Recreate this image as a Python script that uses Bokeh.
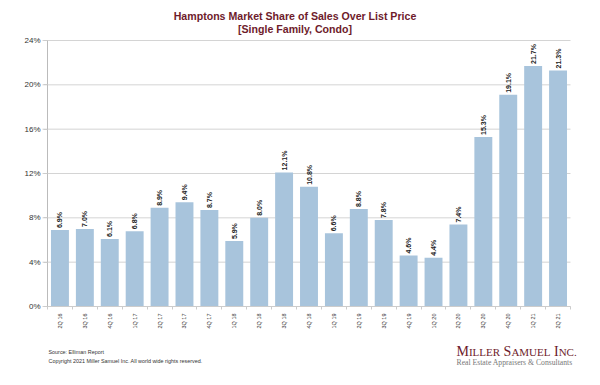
from bokeh.plotting import figure
from bokeh.models import (ColumnDataSource, Range1d, FixedTicker,
                          PrintfTickFormatter, Label)
from bokeh.core.properties import value
from bokeh.embed import file_html
from bokeh.resources import INLINE

quarters = ["2Q 16", "3Q 16", "4Q 16", "1Q 17", "2Q 17", "3Q 17", "4Q 17",
            "1Q 18", "2Q 18", "3Q 18", "4Q 18", "1Q 19", "2Q 19", "3Q 19",
            "4Q 19", "1Q 20", "2Q 20", "3Q 20", "4Q 20", "1Q 21", "2Q 21"]
share = [6.9, 7.0, 6.1, 6.8, 8.9, 9.4, 8.7, 5.9, 8.0, 12.1, 10.8, 6.6, 8.8,
         7.8, 4.6, 4.4, 7.4, 15.3, 19.1, 21.7, 21.3]
y_ticks = [0, 4, 8, 12, 16, 20, 24]
title_lines = ["Hamptons Market Share of Sales Over List Price",
               "[Single Family, Condo]"]
source_note = "Source: Elliman Report"
copyright_note = "Copyright 2021 Miller Samuel Inc.  All world wide rights reserved."
tagline = "Real Estate Appraisers & Consultants"

n = len(quarters)
xs = list(range(n))

# ---- canvas layout (pixels) ----
W, H = 584, 369
PL, PR, PT, PB = 47, 570, 40, 306      # plot area in canvas pixels
YMAX = 24.0
sx = (PR - PL) / n
sy = (PB - PT) / YMAX

def dx(px):
    return -0.5 + (px - PL) / sx

def dy(py):
    return (PB - py) / sy

p = figure(width=W, height=H, x_range=Range1d(dx(0), dx(W)),
           y_range=Range1d(dy(H), dy(0)), output_backend="svg",
           toolbar_location=None, min_border=0)
p.background_fill_color = "white"
p.border_fill_color = "white"
p.outline_line_color = None
p.xgrid.visible = False
p.ygrid.visible = False

# grid lines at the tick values
p.segment(x0=[dx(PL - 5)] * len(y_ticks), x1=[n - 0.5] * len(y_ticks),
          y0=y_ticks, y1=y_ticks, line_color="#d4d4d4", line_width=1)

src = ColumnDataSource(dict(x=xs, v=share, lab=["%.1f%%" % s for s in share]))
p.vbar(x="x", top="v", width=0.72, source=src, fill_color="#a8c4dc",
       line_color=None)
p.text(x="x", y="v", text="lab", source=src, angle=90, angle_units="deg",
       text_align="left", text_baseline="middle", y_offset=-2,
       text_font_size="7px", text_font_style="bold", text_color="#222222",
       text_font=value("Liberation Sans"))

# y axis
ya = p.yaxis[0]
ya.fixed_location = -0.5
ya.bounds = (0, YMAX)
ya.ticker = FixedTicker(ticks=y_ticks, minor_ticks=[])
ya.formatter = PrintfTickFormatter(format="%d%%")
ya.major_label_text_font = "Liberation Sans"
ya.major_label_text_font_size = "8px"
ya.major_label_text_color = "#333333"
ya.axis_line_color = "#bbbbbb"
ya.major_tick_line_color = "#cccccc"
ya.major_tick_out = 4
ya.major_tick_in = 0
ya.minor_tick_line_color = None
ya.major_label_standoff = 3

# x axis
xa = p.xaxis[0]
xa.fixed_location = 0
xa.bounds = (-0.5, n - 0.5)
xa.ticker = FixedTicker(ticks=xs, minor_ticks=[i - 0.5 for i in range(n + 1)])
xa.major_label_overrides = {i: q for i, q in zip(xs, quarters)}
xa.major_label_orientation = 1.5707963267948966
xa.major_label_text_font = "Liberation Sans"
xa.major_label_text_font_size = "5.5px"
xa.major_label_text_color = "#333333"
xa.axis_line_color = "#cccccc"
xa.major_tick_line_color = None
xa.major_tick_out = 0
xa.major_tick_in = 0
xa.minor_tick_line_color = "#cccccc"
xa.minor_tick_out = 3
xa.minor_tick_in = 0
xa.major_label_standoff = 4

title_color = "#6e1b2b"
for i, t in enumerate(title_lines):
    p.add_layout(Label(x=dx(294.5), y=dy(15 + 13 * i), text=t,
                       text_align="center", text_baseline="middle",
                       text_font="Liberation Sans", text_font_style="bold",
                       text_font_size="10.6px", text_color=title_color))

p.add_layout(Label(x=dx(48), y=dy(351), text=source_note,
                   text_align="left", text_baseline="middle",
                   text_font="Liberation Sans", text_font_size="5.4px",
                   text_color="#333333"))
p.add_layout(Label(x=dx(48), y=dy(360), text=copyright_note,
                   text_align="left", text_baseline="middle",
                   text_font="Liberation Sans", text_font_size="5.4px",
                   text_color="#333333"))

# logo in small caps (Times metrics)
big, small = 14.0, 11.0
parts = [("M", big, .889), ("ILLER", small, 2.833), (" ", big, .25),
         ("S", big, .556), ("AMUEL", small, 3.555), (" ", big, .25),
         ("I", big, .333), ("NC.", small, 1.639)]
xpos = 456.0
for txt, fs, em in parts:
    if txt.strip():
        p.add_layout(Label(x=dx(xpos), y=dy(351), text=txt,
                           text_align="left", text_baseline="alphabetic",
                           text_font="Liberation Serif",
                           text_font_size="%.1fpx" % fs,
                           text_color=title_color))
    xpos += em * fs

p.add_layout(Label(x=dx(456), y=dy(362), text=tagline,
                   text_align="left", text_baseline="middle",
                   text_font="Liberation Serif", text_font_size="7.7px",
                   text_color="#777777"))

open("out.html", "w").write(file_html(p, INLINE))
